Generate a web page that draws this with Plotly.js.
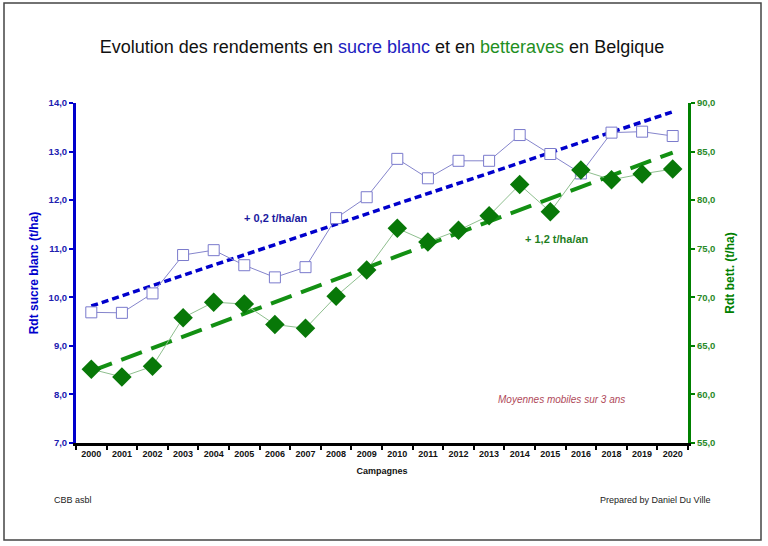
<!DOCTYPE html>
<html><head><meta charset="utf-8">
<script src="https://cdn.plot.ly/plotly-3.0.1.min.js"></script>
<style>html,body{margin:0;padding:0;background:#fff;}#chart{width:768px;height:546px;}</style>
</head><body><div id="chart"></div>
<script>
// Data
const campagnes = ['2000','2001','2002','2003','2004','2005','2006','2007','2008','2009','2010','2011','2012','2013','2014','2015','2016','2018','2019','2020'];
const sucreBlanc = [9.69,9.68,10.08,10.87,10.97,10.66,10.41,10.62,11.63,12.06,12.85,12.45,12.81,12.81,13.34,12.95,12.55,13.39,13.41,13.32];
const betteraves = [62.6,61.8,62.9,67.9,69.5,69.3,67.2,66.8,70.1,72.8,77.1,75.7,76.9,78.4,81.6,78.8,83.1,82.1,82.7,83.2];
const trendCats = ['2000','2020'];
const trendSucre = [9.82,13.82];
const trendBett = [62.4,84.9];

const traces = [
  {x: trendCats, y: trendSucre, yaxis:'y', mode:'lines', hoverinfo:'skip',
   line:{color:'#0000cc', width:3.5, dash:'7px,4px'}},
  {x: campagnes, y: sucreBlanc, yaxis:'y', mode:'lines+markers',
   line:{color:'#8585cc', width:1},
   marker:{symbol:'square', size:11, color:'#ffffff', line:{color:'#7a7acc', width:1}}},
  {x: trendCats, y: trendBett, yaxis:'y2', mode:'lines', hoverinfo:'skip',
   line:{color:'#139013', width:4, dash:'22px,10px'}},
  {x: campagnes, y: betteraves, yaxis:'y2', mode:'lines+markers',
   line:{color:'#8fbf8f', width:1},
   marker:{symbol:'diamond', size:15, color:'#087808', line:{width:0}}}
];

const layout = {
  width:768, height:546,
  margin:{l:76, r:80, t:103, b:103},
  paper_bgcolor:'#ffffff', plot_bgcolor:'#ffffff',
  separators:', ',
  showlegend:false,
  font:{family:'Liberation Sans, Arial, sans-serif'},
  title:{text:"Evolution des rendements en <span style='color:#2020c0'>sucre blanc</span> et en <span style='color:#1f8f1f'>betteraves</span> en Belgique",
         font:{size:18, color:'#111111'}, x:0.5, xref:'paper', xanchor:'center', y:1-47/546, yanchor:'middle'},
  xaxis:{type:'category', categoryorder:'array', categoryarray:campagnes,
    showline:true, linecolor:'#000000', linewidth:3, showgrid:false, zeroline:false,
    ticks:'outside', ticklen:4, tickwidth:2, tickcolor:'#000000', tickson:'boundaries',
    tickfont:{size:9, color:'#111111', weight:'bold'},
    title:{text:'Campagnes', font:{size:9, color:'#111111', weight:'bold'}, standoff:10},
    range:[-0.5,19.5], fixedrange:true},
  yaxis:{range:[7,14], dtick:1, tickformat:'.1f',
    showline:true, linecolor:'#0000cc', linewidth:3, showgrid:false, zeroline:false,
    ticks:'outside', ticklen:4, tickwidth:2, tickcolor:'#0000cc',
    tickfont:{size:9.5, color:'#2020b0', weight:'bold'},
    title:{text:'Rdt sucre blanc (t/ha)', font:{size:12, color:'#0000cc', weight:'bold'}, standoff:8}},
  yaxis2:{range:[55,90], dtick:5, tickformat:'.1f', overlaying:'y', side:'right',
    showline:true, linecolor:'#008000', linewidth:3, showgrid:false, zeroline:false,
    ticks:'outside', ticklen:4, tickwidth:2, tickcolor:'#008000',
    tickfont:{size:9.5, color:'#2a8a2a', weight:'bold'},
    title:{text:'Rdt bett. (t/ha)', font:{size:12, color:'#008000', weight:'bold'}, standoff:12}},
  annotations:[
    {text:'+ 0,2 t/ha/an', xref:'paper', yref:'paper', x:(276-76)/612, y:(443-218)/340, xanchor:'center', yanchor:'middle', showarrow:false,
     font:{size:11, color:'#1a1aa0', weight:'bold'}},
    {text:'+ 1,2 t/ha/an', xref:'paper', yref:'paper', x:(557-76)/612, y:(443-239)/340, xanchor:'center', yanchor:'middle', showarrow:false,
     font:{size:11, color:'#1f7f1f', weight:'bold'}},
    {text:'<i>Moyennes mobiles sur 3 ans</i>', xref:'paper', yref:'paper', x:(561-76)/612, y:(443-399)/340, xanchor:'center', yanchor:'middle', showarrow:false,
     font:{size:10, color:'#b04a5a'}},
    {text:'CBB asbl', xref:'paper', yref:'paper', x:(52-76)/612, xanchor:'left', y:(443-500)/340, yanchor:'middle', showarrow:false,
     font:{size:9, color:'#222222'}},
    {text:'Prepared by Daniel Du Ville', xref:'paper', yref:'paper', x:(712-76)/612, xanchor:'right', y:(443-500)/340, yanchor:'middle', showarrow:false,
     font:{size:9, color:'#222222'}}
  ],
  shapes:[
    {type:'rect', xref:'paper', yref:'paper', x0:(4-76)/612, x1:(761-76)/612, y0:(443-540)/340, y1:(443-3)/340,
     line:{color:'#444444', width:1.5}, layer:'below'}
  ]
};
Plotly.newPlot('chart', traces, layout, {staticPlot:true, displayModeBar:false});
</script>
</body></html>
